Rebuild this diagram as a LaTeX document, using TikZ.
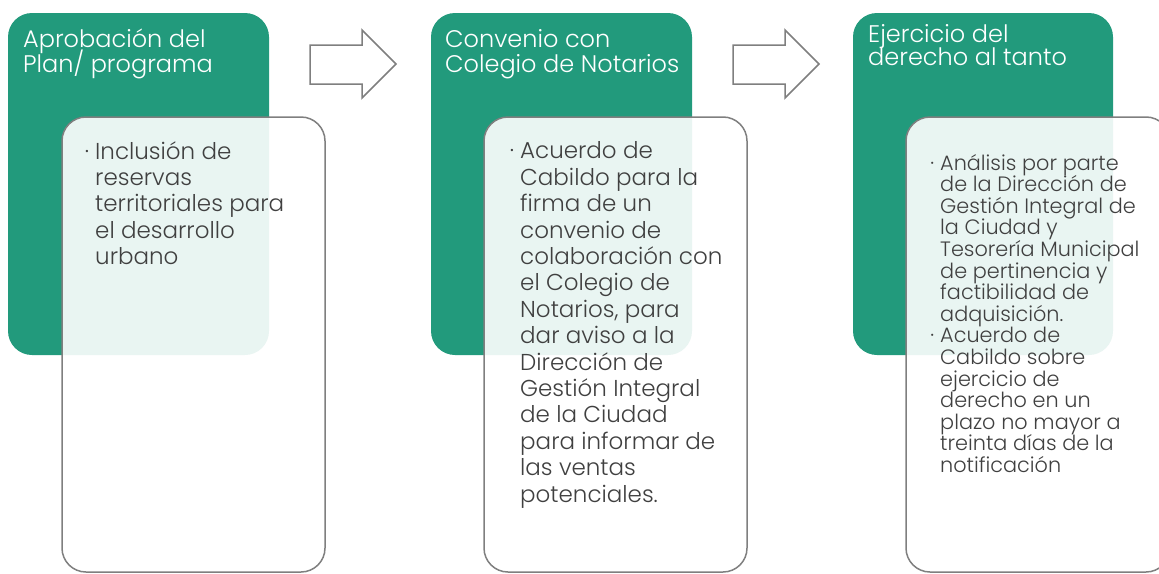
\documentclass[tikz,border=0pt]{standalone}
\usepackage{fontspec}
\IfFontExistsTF{Poppins Light}{\setmainfont{Poppins Light}}{\setmainfont{Poppins}}
\usepackage{tikz}
\usetikzlibrary{positioning}
\definecolor{accentgreen}{HTML}{229A7C}
\definecolor{framegray}{HTML}{7F7F7F}
\definecolor{bodytext}{HTML}{404040}
\newcommand{\fixedlines}{\lineskiplimit-100pt\relax}
\tikzset{
  stagebox/.style={fill=accentgreen,rounded corners=24pt},
  detailbox/.style={draw=framegray,line width=1.5pt,fill=white,fill opacity=0.9,rounded corners=24pt},
  stagetitle/.style={anchor=base west,align=left,inner sep=0pt,text=white,font=\fontsize{24}{25}\selectfont\fixedlines},
  detailtext/.style={anchor=base west,align=left,inner sep=0pt,text=bodytext,font=\fontsize{23}{26.4}\selectfont\fixedlines},
  flowarrow/.style={draw=framegray,line width=1.5pt,fill=white}
}
\newcommand{\itemdot}{\llap{\textperiodcentered\hspace{6pt}}}
\begin{document}
\begin{tikzpicture}[x=1pt,y=-1pt]
  \useasboundingbox (0,0) rectangle (1159,573);
  % Stage 1: plan (nodes anchored on their last baseline)
  \fill[stagebox] (8,13) rectangle (269,355);
  \node[stagetitle] (plantitle) at (23,72) {Aprobación del\\Plan/ programa};
  \filldraw[detailbox] (62,117) rectangle (325,572);
  \node[detailtext] (planitem) at (95,264.6) {\itemdot Inclusión de\\reservas\\territoriales para\\el desarrollo\\urbano};
  % Arrow 1
  \filldraw[flowarrow] (310,45) -- (362,45) -- (362,30) -- (396,64) -- (362,98) -- (362,84) -- (310,84) -- cycle;
  % Stage 2: agreement
  \fill[stagebox] (431,13) rectangle (692,355);
  \node[stagetitle] (convtitle) at (445,72) {Convenio con\\Colegio de Notarios};
  \filldraw[detailbox] (484,117) rectangle (747,572);
  \node[detailtext] (convitem) at (520,502) {\itemdot Acuerdo de\\Cabildo para la\\firma de un\\convenio de\\colaboración con\\el Colegio de\\Notarios, para\\dar aviso a la\\Dirección de\\Gestión Integral\\de la Ciudad\\para informar de\\las ventas\\potenciales.};
  % Arrow 2
  \filldraw[flowarrow] (733,45) -- (785,45) -- (785,30) -- (819,64) -- (785,98) -- (785,84) -- (733,84) -- cycle;
  % Stage 3: right of first refusal
  \fill[stagebox] (853,13) rectangle (1113,355);
  \node[stagetitle,font=\fontsize{24}{23}\selectfont\fixedlines] (ejertitle) at (868,65) {Ejercicio del\\derecho al tanto};
  \filldraw[detailbox] (906,117) rectangle (1170,572);
  \node[detailtext,font=\fontsize{20.8}{21.6}\selectfont\fixedlines] (ejeritem) at (940,472.4) {\itemdot Análisis por parte\\de la Dirección de\\Gestión Integral de\\la Ciudad y\\Tesorería Municipal\\de pertinencia y\\factibilidad de\\adquisición.\\\itemdot Acuerdo de\\Cabildo sobre\\ejercicio de\\derecho en un\\plazo no mayor a\\treinta días de la\\notificación};
\end{tikzpicture}
\end{document}
